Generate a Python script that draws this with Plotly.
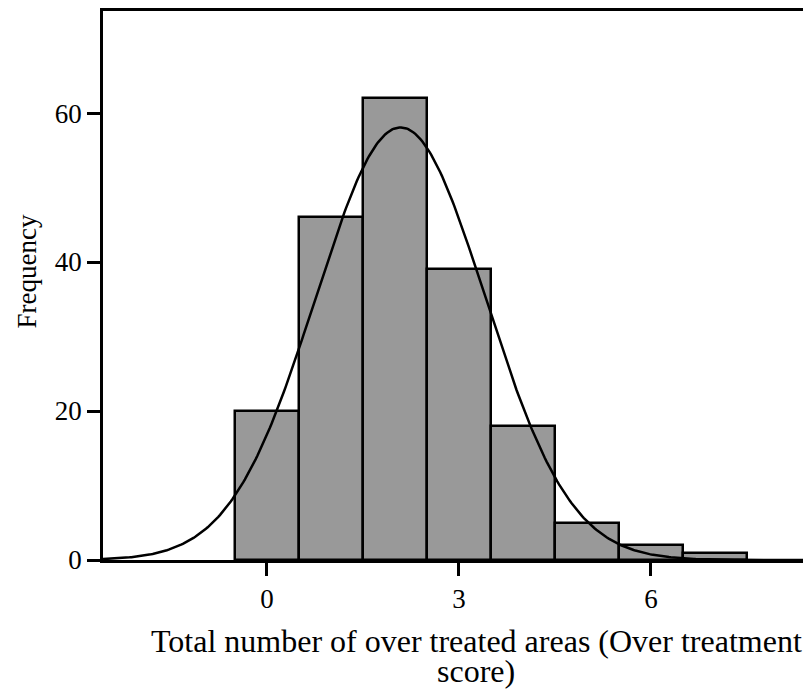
import numpy as np
import plotly.graph_objects as go

# Data
scores = [0, 1, 2, 3, 4, 5, 6, 7]
frequencies = [20, 46, 62, 39, 18, 5, 2, 1]
x_ticks = [0, 3, 6]
y_ticks = [0, 20, 40, 60]

x_title_1 = "Total number of over treated areas (Over treatment"
x_title_2 = "score)"
y_title = "Frequency"

# Normal curve fitted to the data (as SPSS draws it)
s = np.array(scores, dtype=float)
f = np.array(frequencies, dtype=float)
n = f.sum()
mean = (s * f).sum() / n
sd = np.sqrt(((s - mean) ** 2 * f).sum() / (n - 1))
x_range = [-2.56, 8.5]
xc = np.linspace(x_range[0], x_range[1], 400)
yc = n * 1.0 * np.exp(-0.5 * ((xc - mean) / sd) ** 2) / (sd * np.sqrt(2 * np.pi))

FONT = "Liberation Serif, Times New Roman, serif"

# page has an 8px body margin; figure coordinates = reference pixels - 8
OFF = 8
W, H = 811 - OFF, 689 - OFF
L, T = 103 - OFF, 0
B_PX = 560 - OFF          # y pixel of the x axis in figure coords
PLOT_H = B_PX - T
PLOT_W = W - L

fig = go.Figure()
fig.add_trace(go.Bar(
    x=scores, y=frequencies, width=1.0,
    marker=dict(color="#999999", line=dict(color="black", width=2.5)),
    showlegend=False, hoverinfo="skip",
))
fig.add_trace(go.Scatter(
    x=xc, y=yc, mode="lines", line=dict(color="black", width=2.5),
    showlegend=False, hoverinfo="skip",
))

fig.update_layout(
    width=W, height=H,
    margin=dict(l=L, r=0, t=T, b=H - B_PX),
    paper_bgcolor="white", plot_bgcolor="white",
    font=dict(family=FONT, color="black", size=27),
    bargap=0,
)
fig.update_xaxes(
    range=x_range, tickvals=x_ticks, ticktext=[str(v) for v in x_ticks],
    ticks="outside", ticklen=13, tickwidth=2.5, tickcolor="black",
    showline=True, linecolor="black", linewidth=2.5, mirror=True,
    showgrid=False, zeroline=False, tickfont=dict(size=27, family=FONT),
)
fig.update_yaxes(
    range=[0, 73.7], tickvals=y_ticks, ticktext=[str(v) for v in y_ticks],
    ticks="outside", ticklen=13, tickwidth=2.5, tickcolor="black",
    showline=True, linecolor="black", linewidth=2.5, mirror=False,
    showgrid=False, zeroline=False, tickfont=dict(size=27, family=FONT),
)

def ypaper(px):
    return (B_PX - (px - OFF)) / float(PLOT_H)

def xpaper(px):
    return ((px - OFF) - L) / float(PLOT_W)

fig.add_annotation(text=x_title_1, xref="paper", yref="paper",
                   x=xpaper(476), y=ypaper(641), xanchor="center", yanchor="middle",
                   showarrow=False, font=dict(size=32, family=FONT))
fig.add_annotation(text=x_title_2, xref="paper", yref="paper",
                   x=xpaper(476), y=ypaper(672), xanchor="center", yanchor="middle",
                   showarrow=False, font=dict(size=32, family=FONT))
fig.add_annotation(text=y_title, xref="paper", yref="paper",
                   x=xpaper(27), y=ypaper(270), xanchor="center", yanchor="middle",
                   textangle=-90, showarrow=False, font=dict(size=27, family=FONT))

fig.write_html("out.html")
